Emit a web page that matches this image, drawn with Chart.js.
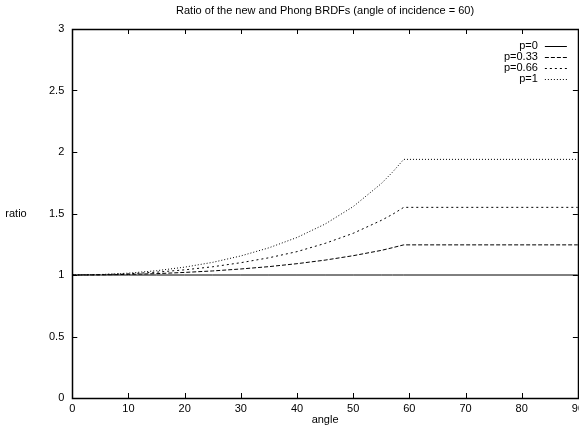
<!DOCTYPE html>
<html lang="en">
<head>
<meta charset="UTF-8">
<title>BRDF ratio</title>
<script src="https://cdn.jsdelivr.net/npm/chart.js@4.4.1/dist/chart.umd.min.js"></script>
<style>
  html, body { margin: 0; padding: 0; background: #fff; overflow: hidden; }
  .wrap { width: 589px; height: 425px; }
</style>
</head>
<body>
<div class="wrap"><canvas id="chart" width="589" height="425"></canvas></div>
<script>
// values
const angles = [0, 5, 10, 15, 20, 25, 30, 35, 40, 45, 50, 55, 57, 59, 90];
const ratioP0 = [1, 1, 1, 1, 1, 1, 1, 1, 1, 1, 1, 1, 1, 1, 1];
const ratioP033 = [1, 1.001, 1.005, 1.011, 1.021, 1.033, 1.049, 1.068, 1.092, 1.121, 1.157, 1.2, 1.222, 1.245, 1.245];
const ratioP066 = [1, 1.003, 1.01, 1.023, 1.042, 1.067, 1.1, 1.14, 1.19, 1.257, 1.339, 1.444, 1.493, 1.55, 1.55];
const ratioP1 = [1, 1.004, 1.015, 1.035, 1.064, 1.103, 1.155, 1.221, 1.305, 1.414, 1.556, 1.743, 1.836, 1.94, 1.94];
const seriesLabels = ["p=0", "p=0.33", "p=0.66", "p=1"];
const xTicks = [0, 10, 20, 30, 40, 50, 60, 70, 80, 90];
const yTicks = [0, 0.5, 1, 1.5, 2, 2.5, 3];

const FONT = "'Liberation Sans', Arial, sans-serif";

function pts(ys) {
    return angles.map((a, i) => ({x: a, y: ys[i]}));
}

const dashes = [[], [4, 2], [2, 3], [1, 2]];

// gnuplot style frame, inward ticks, in-plot legend and horizontal ylabel
const gnuplotBits = {
    id: "gnuplotBits",
    afterDraw(chart) {
        const ctx = chart.ctx;
        const a = chart.chartArea;
        const xs = chart.scales.x, ys = chart.scales.y;
        ctx.save();
        ctx.strokeStyle = "#000";
        ctx.lineWidth = 1;
        ctx.setLineDash([]);
        ctx.beginPath();
        xTicks.forEach(v => {
            const px = Math.round(xs.getPixelForValue(v)) + 0.5;
            ctx.moveTo(px, a.bottom); ctx.lineTo(px, a.bottom - 5);
            ctx.moveTo(px, a.top); ctx.lineTo(px, a.top + 5);
        });
        yTicks.forEach(v => {
            const py = Math.round(ys.getPixelForValue(v)) + 0.5;
            ctx.moveTo(a.left, py); ctx.lineTo(a.left + 5, py);
            ctx.moveTo(a.right, py); ctx.lineTo(a.right - 5, py);
        });
        ctx.stroke();
        ctx.lineWidth = 1.5;
        ctx.strokeRect(Math.round(a.left) + 0.5, Math.round(a.top) + 0.5,
            Math.round(a.right - a.left), Math.round(a.bottom - a.top));

        // legend
        ctx.font = "11px " + FONT;
        ctx.fillStyle = "#000";
        ctx.textAlign = "right";
        ctx.textBaseline = "middle";
        chart.data.datasets.forEach((ds, i) => {
            const y = a.top + 16.5 + i * 11;
            ctx.fillText(ds.label, a.right - 40, y);
            ctx.lineWidth = 1;
            ctx.setLineDash(ds.borderDash || []);
            ctx.beginPath();
            ctx.moveTo(a.right - 33, Math.round(y) + 0.5);
            ctx.lineTo(a.right - 11, Math.round(y) + 0.5);
            ctx.stroke();
        });

        // y label, horizontal
        ctx.setLineDash([]);
        ctx.textAlign = "center";
        ctx.fillText("ratio", 16, (a.top + a.bottom) / 2);
        ctx.restore();
    }
};

new Chart("chart", {
    type: "line",
    data: {
        datasets: [ratioP0, ratioP033, ratioP066, ratioP1].map((ys, i) => ({
            label: seriesLabels[i],
            data: pts(ys),
            borderColor: "#000",
            borderWidth: 1,
            borderDash: dashes[i],
            pointRadius: 0,
            fill: false,
            tension: 0
        }))
    },
    options: {
        responsive: false,
        animation: false,
        layout: {padding: {left: 41, right: 0, top: 0, bottom: 0}},
        plugins: {
            legend: {display: false},
            tooltip: {enabled: false},
            title: {
                display: true,
                text: "Ratio of the new and Phong BRDFs (angle of incidence = 60)",
                fullSize: false,
                color: "#000",
                font: {family: FONT, size: 11, weight: "normal", lineHeight: 1},
                padding: {top: 5, bottom: 13}
            }
        },
        scales: {
            x: {
                type: "linear",
                min: 0, max: 90,
                grid: {display: false, drawTicks: false},
                border: {display: false},
                afterBuildTicks: s => { s.ticks = xTicks.map(v => ({value: v})); },
                ticks: {
                    color: "#000",
                    padding: 5,
                    maxRotation: 0,
                    callback: v => String(v),
                    font: {family: FONT, size: 11, lineHeight: 1}
                },
                title: {
                    display: true,
                    text: "angle",
                    color: "#000",
                    padding: {top: -5, bottom: 0},
                    font: {family: FONT, size: 11, lineHeight: 1}
                }
            },
            y: {
                min: 0, max: 3,
                grid: {display: false, drawTicks: false},
                border: {display: false},
                afterBuildTicks: s => { s.ticks = yTicks.map(v => ({value: v})); },
                ticks: {
                    color: "#000",
                    padding: 8,
                    callback: v => String(v),
                    font: {family: FONT, size: 11, lineHeight: 1}
                }
            }
        }
    },
    plugins: [gnuplotBits]
});
</script>
</body>
</html>
